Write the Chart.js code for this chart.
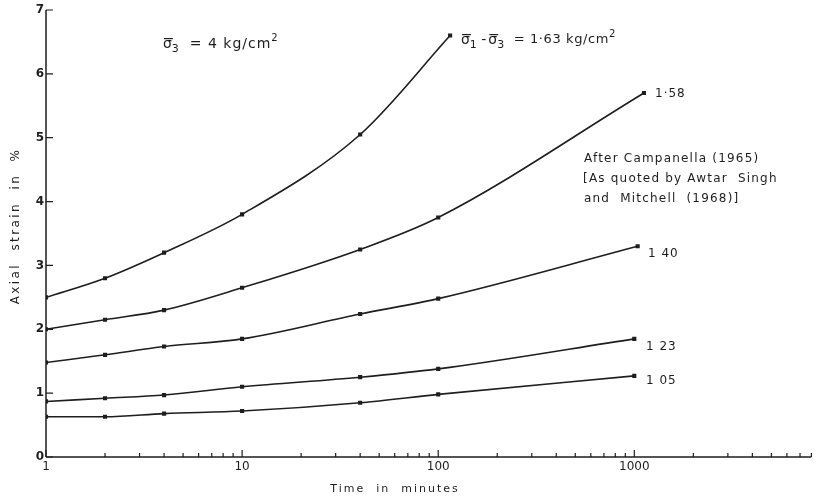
<!DOCTYPE html>
<html><head><meta charset="utf-8">
<script src="https://cdn.jsdelivr.net/npm/chart.js@4/dist/chart.umd.min.js"></script>
<style>html,body{margin:0;padding:0;background:#fff}#wrap{width:817px;height:499px;position:relative}</style>
</head><body><div id="wrap"><canvas id="c"></canvas></div>
<script>
const xTickLabels = [1, 10, 100, 1000];
const yTicks = [0, 1, 2, 3, 4, 5, 6, 7];
const t163 = [1, 2, 4, 10, 40, 115];
const v163 = [2.5, 2.8, 3.2, 3.8, 5.05, 6.6];
const t158 = [1, 2, 4, 10, 40, 100, 1120];
const v158 = [2.0, 2.15, 2.3, 2.65, 3.25, 3.75, 5.7];
const t140 = [1, 2, 4, 10, 40, 100, 1040];
const v140 = [1.48, 1.6, 1.73, 1.85, 2.24, 2.48, 3.3];
const t123 = [1, 2, 4, 10, 40, 100, 1000];
const v123 = [0.87, 0.92, 0.97, 1.1, 1.25, 1.38, 1.85];
const t105 = [1, 2, 4, 10, 40, 100, 1000];
const v105 = [0.63, 0.63, 0.68, 0.72, 0.85, 0.98, 1.27];
const seriesNames = ['1.63', '1.58', '1.40', '1.23', '1.05'];

const FONT = '"DejaVu Sans", sans-serif';
const INK = '#1e1e1e';
function pts(t, v) { return t.map((x, i) => ({x, y: v[i]})); }
function ds(name, t, v) {
  return {label: name, data: pts(t, v), borderColor: INK, borderWidth: 1.6,
    pointStyle: 'rect', pointRadius: 1.8, pointBackgroundColor: INK, pointBorderColor: INK,
    cubicInterpolationMode: 'monotone', fill: false};
}

function sigma(ctx, x, y, sub) {
  ctx.font = '14px ' + FONT;
  ctx.fillText('σ', x, y);
  const w = ctx.measureText('σ').width;
  ctx.fillRect(x + 1, y - 6, w, 1.2);
  ctx.font = '11px ' + FONT;
  ctx.fillText(sub, x + w, y + 5);
  return x + w + ctx.measureText(sub).width;
}

const annot = {
  id: 'annot',
  afterDraw(chart) {
    const ctx = chart.ctx, xs = chart.scales.x, ys = chart.scales.y;
    ctx.save();
    ctx.strokeStyle = INK; ctx.lineWidth = 1.5;
    ctx.beginPath();
    ctx.moveTo(xs.left, ys.getPixelForValue(0)); ctx.lineTo(xs.right, ys.getPixelForValue(0));
    ctx.moveTo(xs.left, ys.getPixelForValue(0)); ctx.lineTo(xs.left, ys.getPixelForValue(7));
    ctx.stroke();
    ctx.lineWidth = 1.2;
    ctx.beginPath();
    const y0 = ys.getPixelForValue(0);
    for (let d = 1; d <= 1000; d *= 10) {
      for (let m = 1; m <= 9; m++) {
        const v = d * m; if (v > xs.max) break;
        const px = xs.getPixelForValue(v);
        const len = m === 1 ? 7 : 4;
        ctx.moveTo(px, y0); ctx.lineTo(px, y0 - len);
      }
    }
    yTicks.forEach(v => { const py = ys.getPixelForValue(v); ctx.moveTo(xs.left, py); ctx.lineTo(xs.left + 7, py); });
    ctx.stroke();
    ctx.fillStyle = INK; ctx.textBaseline = 'middle'; ctx.textAlign = 'left';
    let x = sigma(ctx, 163, 44, '3');
    ctx.font = '14px ' + FONT; ctx.letterSpacing = '1px';
    ctx.fillText('  = 4 kg/cm', x, 44);
    let w = ctx.measureText('  = 4 kg/cm').width;
    ctx.font = '10px ' + FONT; ctx.fillText('2', x + w, 38);
    ctx.letterSpacing = '0px';
    x = sigma(ctx, 461, 40, '1');
    ctx.font = '14px ' + FONT; ctx.fillText(' -', x, 40);
    x = sigma(ctx, x + ctx.measureText(' -').width + 2, 40, '3');
    ctx.font = '13px ' + FONT; ctx.letterSpacing = '0.6px';
    ctx.fillText('  = 1·63 kg/cm', x, 40);
    w = ctx.measureText('  = 1·63 kg/cm').width;
    ctx.font = '10px ' + FONT; ctx.fillText('2', x + w, 34);
    ctx.font = '12px ' + FONT; ctx.letterSpacing = '1px';
    ctx.fillText('1·58', 655, 94);
    ctx.fillText('1 40', 648, 254);
    ctx.fillText('1 23', 646, 347);
    ctx.fillText('1 05', 646, 381);
    ctx.font = '12px ' + FONT; ctx.letterSpacing = '1.2px';
    ctx.fillText('After Campanella (1965)', 584, 159);
    ctx.fillText('[As quoted by Awtar  Singh', 583, 179);
    ctx.fillText('and  Mitchell  (1968)]', 584, 199);
    ctx.textAlign = 'center'; ctx.letterSpacing = '2px';
    ctx.font = '11px ' + FONT;
    ctx.fillText('Time  in  minutes', 395, 489);
    ctx.font = '12px ' + FONT; ctx.letterSpacing = '2.4px';
    ctx.translate(16, 226); ctx.rotate(-Math.PI / 2);
    ctx.fillText('Axial  strain  in  %', 0, 0);
    ctx.restore();
  }
};

new Chart(document.getElementById('c'), {
  type: 'line',
  data: {datasets: [ds(seriesNames[0], t163, v163), ds(seriesNames[1], t158, v158), ds(seriesNames[2], t140, v140), ds(seriesNames[3], t123, v123), ds(seriesNames[4], t105, v105)]},
  options: {
    responsive: true, maintainAspectRatio: false, animation: false,
    layout: {padding: {top: 10, right: 0, left: 0, bottom: 0}},
    plugins: {legend: {display: false}, tooltip: {enabled: false}},
    scales: {
      x: {type: 'logarithmic', min: 1, max: 8000,
        afterBuildTicks(s) { s.ticks = xTickLabels.map(v => ({value: v})); },
        afterFit(s) { s.height = 42; },
        grid: {display: false, drawTicks: false}, border: {display: false},
        ticks: {color: INK, font: {family: FONT, size: 12}, padding: 3, maxRotation: 0, autoSkip: false,
          callback: v => String(v)}},
      y: {min: 0, max: 7,
        afterBuildTicks(s) { s.ticks = yTicks.map(v => ({value: v})); },
        afterFit(s) { s.width = 46; },
        grid: {display: false, drawTicks: false}, border: {display: false},
        ticks: {color: INK, font: {family: FONT, size: 12, weight: 'bold'}, padding: 2}}
    }
  },
  plugins: [annot]
});
</script></body></html>
